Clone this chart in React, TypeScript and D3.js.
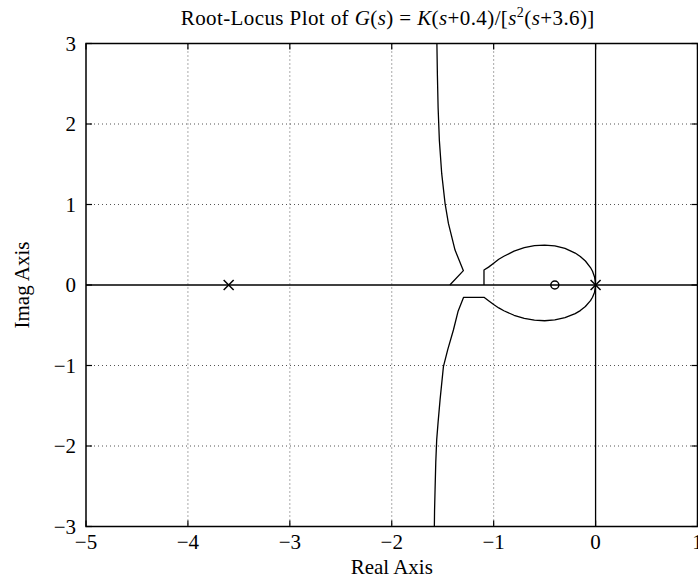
import React from 'react';
import * as d3 from 'd3';

type P = [number, number];

const xTicks = [-5, -4, -3, -2, -1, 0, 1];
const yTicks = [-3, -2, -1, 0, 1, 2, 3];

const poles: P[] = [[-3.6, 0], [0, 0]];
const zeros: P[] = [[-0.4, 0]];

// branch leaving the origin upward, closing on the real axis near -1.1
const upperLoop: P[] = [
  [0, 0], [-0.01, 0.099], [-0.03, 0.17], [-0.05, 0.217], [-0.1, 0.298], [-0.15, 0.355],
  [-0.2, 0.397], [-0.3, 0.454], [-0.4, 0.485], [-0.5, 0.496], [-0.6, 0.488],
  [-0.7, 0.463], [-0.8, 0.42], [-0.9, 0.357], [-0.95, 0.32], [-1.0, 0.271],
  [-1.05, 0.222], [-1.095, 0.186], [-1.095, 0],
];

// branch leaving the origin downward, then jumping to the lower asymptote branch
const lowerBranch: P[] = [
  [0, 0], [-0.01, -0.089], [-0.03, -0.152], [-0.05, -0.194], [-0.1, -0.267], [-0.15, -0.318],
  [-0.2, -0.355], [-0.3, -0.406], [-0.4, -0.434], [-0.5, -0.444], [-0.6, -0.437],
  [-0.7, -0.415], [-0.8, -0.376], [-0.9, -0.32], [-0.95, -0.285], [-1.0, -0.243],
  [-1.05, -0.195], [-1.095, -0.153], [-1.295, -0.153], [-1.35, -0.33],
  [-1.395, -0.559], [-1.45, -0.8], [-1.493, -1.014], [-1.526, -1.427],
  [-1.545, -1.7], [-1.559, -1.924], [-1.568, -2.2], [-1.575, -2.544],
  [-1.58, -2.8], [-1.582, -3.0],
];

// branch from the real axis near -1.43 up toward the asymptote at -1.6
const upperAsym: P[] = [
  [-1.43, 0], [-1.297, 0.178], [-1.379, 0.434], [-1.444, 0.765], [-1.477, 1.014],
  [-1.51, 1.386], [-1.533, 1.8], [-1.545, 2.2], [-1.552, 2.6], [-1.557, 3.0],
];

const fmt = (d: number) => (d < 0 ? '\u2212' + Math.abs(d) : String(d));

export default function App() {
  const W = 698, H = 584;
  const L = 86, R = 697.5, T = 43.5, B = 526.5;
  const x = d3.scaleLinear().domain([-5, 1]).range([L, R]);
  const y = d3.scaleLinear().domain([-3, 3]).range([B, T]);
  const line = d3.line<P>().x(d => x(d[0])).y(d => y(d[1]));
  const font = '"Liberation Serif", "Times New Roman", serif';
  const fs = 21;
  const tickLen = 6;
  const cx = (L + R) / 2;

  return (
    <svg width={W} height={H} style={{ position: 'absolute', left: 0, top: 0, background: '#fff' }}
      fontFamily={font}>
      <rect x={0} y={0} width={W} height={H} fill="#fff" />
      <defs>
        <clipPath id="plot">
          <rect x={L} y={T} width={R - L} height={B - T} />
        </clipPath>
      </defs>
      {/* grid */}
      <g stroke="#555" strokeWidth={1} strokeDasharray="1 3">
        {xTicks.filter(t => t > -5 && t < 1 && t !== 0).map(t => (
          <line key={'gx' + t} x1={x(t)} x2={x(t)} y1={T} y2={B} />
        ))}
        {yTicks.filter(t => t > -3 && t < 3 && t !== 0).map(t => (
          <line key={'gy' + t} x1={L} x2={R} y1={y(t)} y2={y(t)} />
        ))}
      </g>
      {/* axes through origin */}
      <g stroke="#000" strokeWidth={1.3}>
        <line x1={x(0)} x2={x(0)} y1={T} y2={B} />
        <line x1={L} x2={R} y1={y(0)} y2={y(0)} />
      </g>
      {/* locus */}
      <g clipPath="url(#plot)" fill="none" stroke="#000" strokeWidth={1.3} strokeLinejoin="round">
        <path d={line(upperLoop) || ''} />
        <path d={line(lowerBranch) || ''} />
        <path d={line(upperAsym) || ''} />
      </g>
      {/* markers */}
      <g stroke="#000" strokeWidth={1.5} fill="none">
        {poles.map((p, i) => (
          <g key={'p' + i} transform={`translate(${x(p[0])},${y(p[1])})`}>
            <line x1={-5} y1={-5} x2={5} y2={5} />
            <line x1={-5} y1={5} x2={5} y2={-5} />
          </g>
        ))}
        {zeros.map((p, i) => (
          <circle key={'z' + i} cx={x(p[0])} cy={y(p[1])} r={4} />
        ))}
      </g>
      {/* box and ticks */}
      <rect x={L} y={T} width={R - L} height={B - T} fill="none" stroke="#000" strokeWidth={1.5} />
      <g stroke="#000" strokeWidth={1.2}>
        {xTicks.map(t => (
          <g key={'tx' + t}>
            <line x1={x(t)} x2={x(t)} y1={B} y2={B - tickLen} />
            <line x1={x(t)} x2={x(t)} y1={T} y2={T + tickLen} />
          </g>
        ))}
        {yTicks.map(t => (
          <g key={'ty' + t}>
            <line x1={L} x2={L + tickLen} y1={y(t)} y2={y(t)} />
            <line x1={R} x2={R - tickLen} y1={y(t)} y2={y(t)} />
          </g>
        ))}
      </g>
      {/* tick labels */}
      <g fontSize={fs} fill="#000">
        {xTicks.map(t => (
          <text key={'lx' + t} x={x(t)} y={549} textAnchor="middle">{fmt(t)}</text>
        ))}
        {yTicks.map(t => (
          <text key={'ly' + t} x={76} y={y(t) + 7} textAnchor="end">{fmt(t)}</text>
        ))}
      </g>
      {/* axis labels */}
      <text x={cx} y={574} textAnchor="middle" fontSize={fs}>Real Axis</text>
      <text transform={`translate(29,${y(0)}) rotate(-90)`} textAnchor="middle" fontSize={fs}>Imag Axis</text>
      {/* title */}
      <text x={cx - 4} y={25} textAnchor="middle" fontSize={fs} letterSpacing={0.4}>
        <tspan>Root-Locus Plot of </tspan>
        <tspan fontStyle="italic">G</tspan>
        <tspan>(</tspan>
        <tspan fontStyle="italic">s</tspan>
        <tspan>) = </tspan>
        <tspan fontStyle="italic">K</tspan>
        <tspan>(</tspan>
        <tspan fontStyle="italic">s</tspan>
        <tspan>+0.4)/[</tspan>
        <tspan fontStyle="italic">s</tspan>
        <tspan fontSize={14} dy={-8}>2</tspan>
        <tspan dy={8}>(</tspan>
        <tspan fontStyle="italic">s</tspan>
        <tspan>+3.6)]</tspan>
      </text>
    </svg>
  );
}
